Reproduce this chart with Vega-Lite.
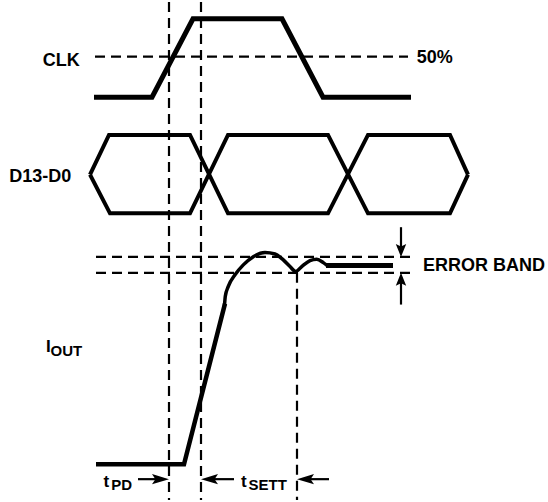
{
  "$schema": "https://vega.github.io/schema/vega-lite/v6.json",
  "width": 548,
  "height": 502,
  "padding": 0,
  "autosize": {"type": "fit", "contains": "padding"},
  "background": "white",
  "config": {"view": {"stroke": null}},
  "datasets": {
    "dashed": [
      {"x": 169, "y": 0, "x2": 169, "y2": 502},
      {"x": 201, "y": 0, "x2": 201, "y2": 502},
      {"x": 297, "y": 273, "x2": 297, "y2": 502},
      {"x": 95, "y": 55, "x2": 408, "y2": 55},
      {"x": 96, "y": 257, "x2": 410, "y2": 257},
      {"x": 96, "y": 273, "x2": 410, "y2": 273}
    ],
    "clk": [
      {"id": "clk", "o": 1, "x": 94, "y": 96},
      {"id": "clk", "o": 2, "x": 152, "y": 96},
      {"id": "clk", "o": 3, "x": 193, "y": 17},
      {"id": "clk", "o": 4, "x": 282, "y": 17},
      {"id": "clk", "o": 5, "x": 323, "y": 96},
      {"id": "clk", "o": 6, "x": 411, "y": 96}
    ],
    "bus": [
      {"id": "a", "o": 1, "x": 90, "y": 174},
      {"id": "a", "o": 2, "x": 109, "y": 134},
      {"id": "a", "o": 3, "x": 190, "y": 134},
      {"id": "a", "o": 4, "x": 228, "y": 213},
      {"id": "a", "o": 5, "x": 328, "y": 213},
      {"id": "a", "o": 6, "x": 368, "y": 134},
      {"id": "a", "o": 7, "x": 450, "y": 134},
      {"id": "a", "o": 8, "x": 468, "y": 174},
      {"id": "b", "o": 1, "x": 90, "y": 174},
      {"id": "b", "o": 2, "x": 110, "y": 213},
      {"id": "b", "o": 3, "x": 190, "y": 213},
      {"id": "b", "o": 4, "x": 228, "y": 134},
      {"id": "b", "o": 5, "x": 328, "y": 134},
      {"id": "b", "o": 6, "x": 368, "y": 213},
      {"id": "b", "o": 7, "x": 450, "y": 213},
      {"id": "b", "o": 8, "x": 468, "y": 174}
    ],
    "ioutLin": [
      {"o": 1, "x": 96, "y": 466},
      {"o": 2, "x": 184, "y": 466},
      {"o": 3, "x": 225, "y": 304}
    ],
    "ioutCurve": [
      {"o": 1, "x": 224.5, "y": 306},
      {"o": 2, "x": 225.3, "y": 296.7},
      {"o": 3, "x": 228.3, "y": 286.7},
      {"o": 4, "x": 235, "y": 275},
      {"o": 5, "x": 243.3, "y": 265},
      {"o": 6, "x": 253.3, "y": 256.7},
      {"o": 7, "x": 265, "y": 252.5},
      {"o": 8, "x": 275, "y": 254},
      {"o": 9, "x": 283.3, "y": 260},
      {"o": 10, "x": 290, "y": 266.7},
      {"o": 11, "x": 295.7, "y": 271.7},
      {"o": 12, "x": 301.7, "y": 266.7},
      {"o": 13, "x": 310, "y": 260.7},
      {"o": 14, "x": 316.7, "y": 259.3},
      {"o": 15, "x": 323.3, "y": 262.7},
      {"o": 16, "x": 327, "y": 265.5}
    ],
    "ioutFlat": [
      {"o": 1, "x": 326, "y": 265.7},
      {"o": 2, "x": 393, "y": 265.7}
    ],
    "shafts": [
      {"x": 138, "y": 481, "x2": 160, "y2": 481},
      {"x": 210, "y": 481, "x2": 234, "y2": 481},
      {"x": 306, "y": 481, "x2": 329, "y2": 481},
      {"x": 401, "y": 227, "x2": 401, "y2": 250},
      {"x": 401, "y": 280, "x2": 401, "y2": 305}
    ],
    "hheads": [
      {"x": 169, "y": 481, "dir": 0},
      {"x": 201, "y": 481, "dir": 180},
      {"x": 297, "y": 481, "dir": 180}
    ],
    "vheads": [
      {"x": 401, "y": 257, "dir": 90},
      {"x": 401, "y": 273, "dir": 270}
    ],
    "labels": [
      {"x": 42.7, "y": 65, "text": "CLK"},
      {"x": 9.3, "y": 181.7, "text": "D13-D0"},
      {"x": 416.7, "y": 61.7, "text": "50%"},
      {"x": 423, "y": 270.7, "text": "ERROR BAND"}
    ],
    "mains": [
      {"x": 103.5, "y": 489, "text": "t"},
      {"x": 241, "y": 489, "text": "t"},
      {"x": 46, "y": 353.3, "text": "I"}
    ],
    "subs": [
      {"x": 111.2, "y": 492, "text": "PD"},
      {"x": 248.5, "y": 492, "text": "SETT"},
      {"x": 50.5, "y": 357, "text": "OUT"}
    ]
  },
  "encoding": {
    "x": {"field": "x", "type": "quantitative", "scale": {"domain": [0, 548], "nice": false, "zero": false}, "axis": null},
    "y": {"field": "y", "type": "quantitative", "scale": {"domain": [0, 502], "nice": false, "zero": false, "reverse": true}, "axis": null}
  },
  "layer": [
    {
      "data": {"name": "dashed"},
      "mark": {"type": "rule", "color": "black", "strokeWidth": 2.2, "strokeDash": [10, 6]},
      "encoding": {"x2": {"field": "x2"}, "y2": {"field": "y2"}}
    },
    {
      "data": {"name": "clk"},
      "mark": {"type": "line", "color": "black", "strokeWidth": 5, "strokeJoin": "miter", "strokeCap": "butt"},
      "encoding": {"order": {"field": "o"}}
    },
    {
      "data": {"name": "bus"},
      "mark": {"type": "line", "color": "black", "strokeWidth": 4, "strokeJoin": "miter", "strokeCap": "butt"},
      "encoding": {"detail": {"field": "id"}, "order": {"field": "o"}}
    },
    {
      "data": {"name": "ioutLin"},
      "mark": {"type": "line", "color": "black", "strokeWidth": 4.5, "strokeJoin": "miter", "strokeCap": "butt"},
      "encoding": {"order": {"field": "o"}}
    },
    {
      "data": {"name": "ioutCurve"},
      "mark": {"type": "line", "color": "black", "strokeWidth": 3.5, "interpolate": "monotone", "strokeCap": "round"},
      "encoding": {"order": {"field": "o"}}
    },
    {
      "data": {"name": "ioutFlat"},
      "mark": {"type": "line", "color": "black", "strokeWidth": 5, "strokeCap": "butt"},
      "encoding": {"order": {"field": "o"}}
    },
    {
      "data": {"name": "shafts"},
      "mark": {"type": "rule", "color": "black", "strokeWidth": 2.2},
      "encoding": {"x2": {"field": "x2"}, "y2": {"field": "y2"}}
    },
    {
      "data": {"name": "hheads"},
      "mark": {"type": "point", "filled": true, "color": "black", "opacity": 1, "size": 289, "shape": "M0,0 L-2,-0.6 L-1.6,0 L-2,0.6 Z"},
      "encoding": {"angle": {"field": "dir", "type": "quantitative", "scale": null}}
    },
    {
      "data": {"name": "vheads"},
      "mark": {"type": "point", "filled": true, "color": "black", "opacity": 1, "size": 169, "shape": "M0,0 L-2,-0.8 L-1.6,0 L-2,0.8 Z"},
      "encoding": {"angle": {"field": "dir", "type": "quantitative", "scale": null}}
    },
    {
      "data": {"name": "labels"},
      "mark": {"type": "text", "align": "left", "baseline": "alphabetic", "font": "Liberation Sans", "fontWeight": "bold", "fontSize": 18, "color": "black"},
      "encoding": {"text": {"field": "text"}}
    },
    {
      "data": {"name": "mains"},
      "mark": {"type": "text", "align": "left", "baseline": "alphabetic", "font": "Liberation Sans", "fontWeight": "bold", "fontSize": 17, "color": "black"},
      "encoding": {"text": {"field": "text"}}
    },
    {
      "data": {"name": "subs"},
      "mark": {"type": "text", "align": "left", "baseline": "alphabetic", "font": "Liberation Sans", "fontWeight": "bold", "fontSize": 15, "color": "black"},
      "encoding": {"text": {"field": "text"}}
    }
  ]
}
